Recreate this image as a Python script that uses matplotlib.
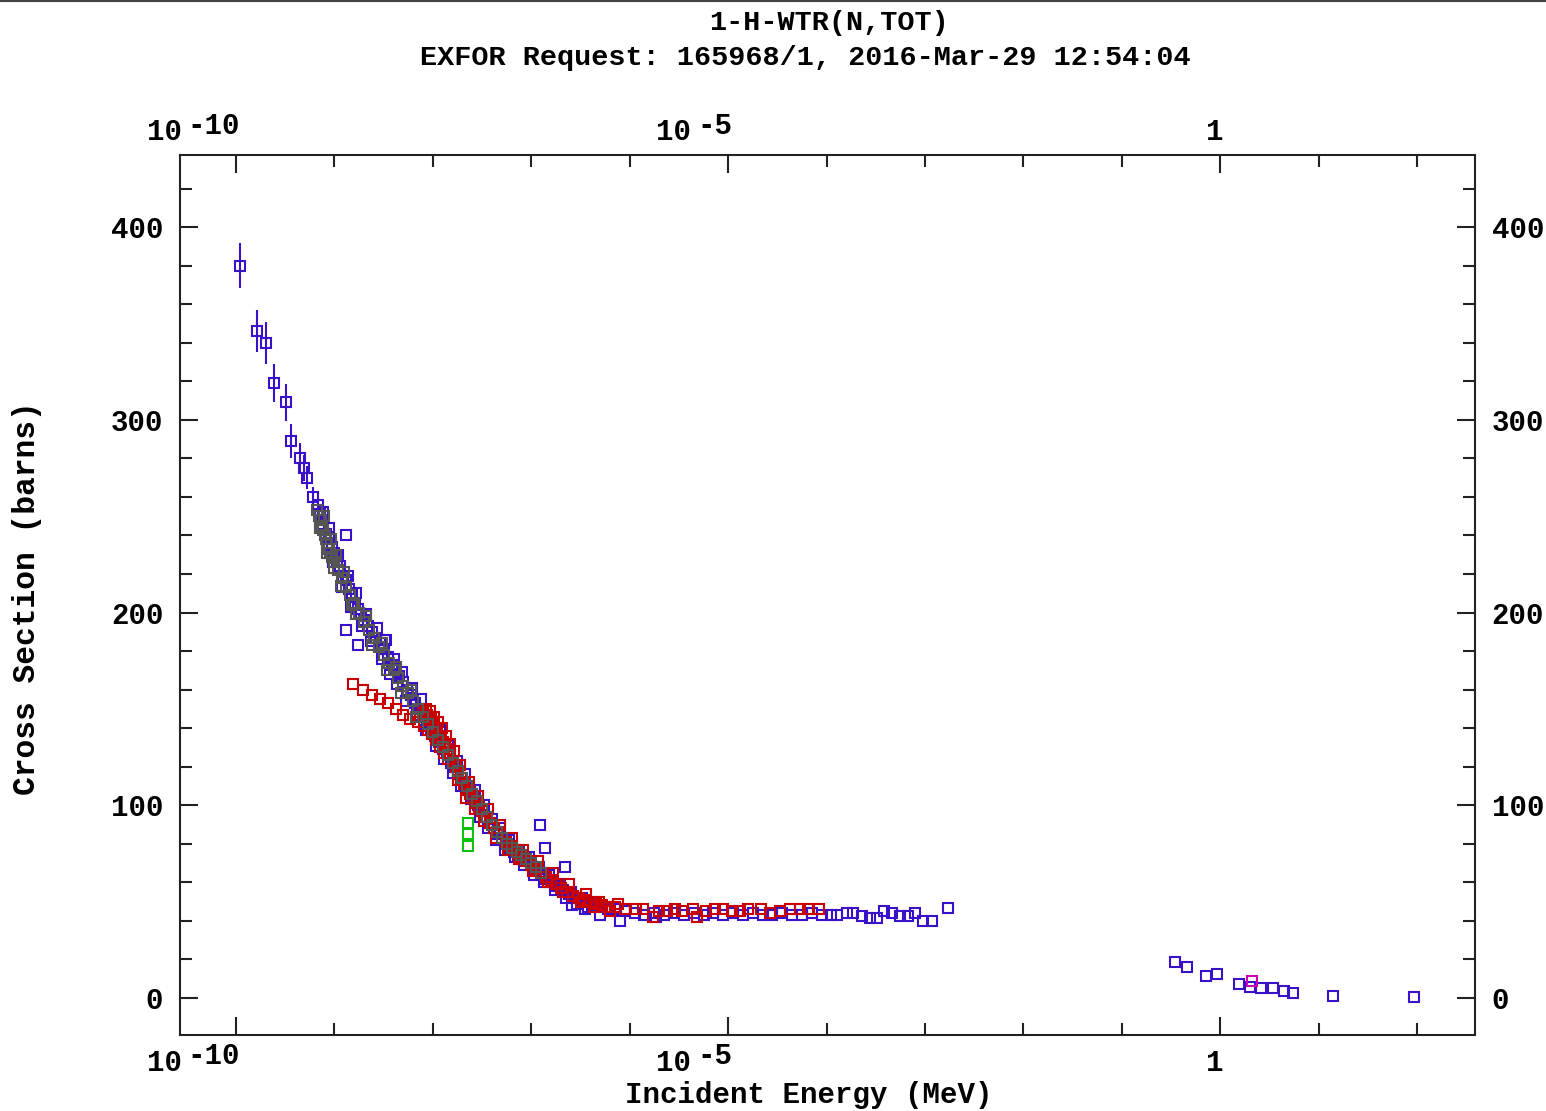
"""
EXFOR plot of the total neutron cross section of hydrogen in water.
Open square markers, log energy axis, two title lines.
"""

import numpy as np
import matplotlib
matplotlib.use("Agg")
import matplotlib.pyplot as plt
from matplotlib.lines import Line2D
from matplotlib.ticker import FixedLocator, MultipleLocator, NullFormatter
from matplotlib.transforms import offset_copy


# Data (energies stored as log10 of MeV, cross sections in barns).
# Low energy points with error bars.
blue_err_log_e = [-9.96, -9.79, -9.70, -9.61, -9.49, -9.44, -9.35, -9.31, -9.28, -9.22, -9.17]
blue_err_xs = [380, 346, 340, 319, 309, 289, 280, 275, 270, 260, 256]
blue_err_dxs = [11.5, 11, 11, 10, 9.5, 9, 8, 7, 6, 5, 4]

# Main blue data set.
blue_log_e = [
    -9.15, -9.12, -9.09, -9.06, -9.03, -9.00, -8.97, -8.94, -8.91, -8.88,
    -8.85, -8.82, -8.79, -8.76, -8.73, -8.70, -8.66, -8.62, -8.58, -8.54,
    -8.50, -8.46, -8.42, -8.38, -8.34, -8.30, -8.26, -8.22, -8.18, -8.14,
    -8.10, -8.06, -8.02, -7.98, -7.94, -7.90, -7.86, -7.82, -7.78, -7.74,
    -7.70, -7.66, -7.62, -7.58, -7.54, -7.50, -7.46, -7.42, -7.38, -7.34,
    -7.30, -7.26, -7.22, -7.18, -7.14, -7.10, -7.05, -7.00, -6.95, -6.90,
    -6.85, -6.80, -6.74, -6.68, -6.62, -6.56, -6.50, -6.44, -6.38, -6.30,
    -6.22, -6.14, -6.05, -5.95, -5.85, -5.75, -5.65, -5.55, -5.45, -5.35,
    -5.25, -5.15, -5.05, -4.95, -4.85, -4.75, -4.65, -4.55, -4.45, -4.35,
    -4.25, -4.15, -4.05, -3.95, -3.89, -3.79, -3.73, -3.64, -3.56, -3.49,
    -3.42, -3.33, -3.25, -3.17, -3.10, -3.02, -2.93, -2.77,
    -8.88, -8.88, -8.76, -8.49, -6.91, -6.86, -6.66, -6.59, -6.45, -6.30,
    -6.10, -5.73,
]
blue_xs = [
    251, 246, 241, 239, 234, 231, 227, 224, 219, 217,
    212, 209, 204, 202, 199, 196, 193, 190, 187, 184,
    181, 177, 173, 170, 167, 164, 160, 157, 153, 150,
    146, 143, 140, 136, 133, 129, 127, 122, 120, 116,
    114, 110, 107, 104, 100, 97, 94, 91, 88, 85,
    82, 80, 78, 76, 74, 72, 71, 69, 67, 64,
    62, 60, 58, 56, 54, 52, 51, 50, 48, 47,
    46, 46, 45, 44, 43, 44, 43, 44, 43, 44,
    43, 44, 43, 44, 43, 44, 43, 43, 44, 43,
    43, 44, 43, 43, 43, 44, 44, 42.6, 41.5, 41.5,
    45, 44, 42.6, 42.6, 44, 40, 40, 46.7,
    240, 191, 183, 186, 90, 78, 68, 48, 46, 43,
    40, 42,
]

# Blue points spread either side of the main band.
blue_spread_log_e = [
    -9.12, -9.06, -9.02, -8.96, -8.92, -8.86, -8.83, -8.78, -8.72, -8.68,
    -8.63, -8.57, -8.52, -8.48, -8.44, -8.40, -8.36, -8.31, -8.27, -8.21,
    -8.16, -8.12, -8.07, -8.03, -7.97, -7.93, -7.89, -7.85, -7.80, -7.76,
    -7.71, -7.67, -7.61, -7.57, -7.52, -7.48, -7.44, -7.40, -7.36, -7.32,
    -7.27, -7.23, -7.17, -7.12, -7.07, -7.02, -6.97, -6.92, -6.87, -6.82,
    -6.76, -6.71, -6.65, -6.60, -6.54, -6.48, -6.42, -6.36,
]
blue_spread_xs = [
    252, 244, 226, 230, 213, 219, 203, 210, 193, 199,
    185, 192, 176, 186, 168, 176, 163, 169, 154, 161,
    147, 155, 139, 146, 131, 139, 124, 131, 117, 123,
    110, 116, 103, 108, 94, 100, 88, 93, 82, 88,
    77, 82, 73, 77, 69, 73, 64, 68, 60, 64,
    56, 59, 52, 55, 49, 52, 47, 50,
]

# Blue points above 0.1 MeV.
blue_fast_log_e = [-0.457, -0.335, -0.142, -0.03, 0.193, 0.305, 0.417, 0.539, 0.65, 0.742, 1.148, 1.97]
blue_fast_xs = [18.7, 16.1, 11.4, 12.5, 7.3, 5.7, 5.2, 5.2, 3.6, 2.6, 1.0, 0.3]

# Red data set.
red_log_e = [
    -8.81, -8.71, -8.62, -8.54, -8.46, -8.37, -8.30, -8.23, -8.15, -8.10,
    -8.08, -8.06, -8.04, -8.02, -8.00, -7.98, -7.96, -7.94, -7.92, -7.90,
    -7.88, -7.86, -7.83, -7.80, -7.77, -7.74, -7.71, -7.68, -7.65, -7.62,
    -7.59, -7.56, -7.53, -7.50, -7.46, -7.42, -7.38, -7.34, -7.30, -7.26,
    -7.22, -7.18, -7.14, -7.10, -7.05, -7.00, -6.95, -6.90, -6.85, -6.80,
    -6.75, -6.70, -6.64, -6.58, -6.52, -6.46, -6.40, -6.34, -6.28, -6.23,
    -6.15, -6.05, -5.94, -5.86, -5.76, -5.70, -5.62, -5.54, -5.47, -5.36,
    -5.32, -5.22, -5.13, -5.05, -4.96, -4.88, -4.80, -4.67, -4.57, -4.47,
    -4.37, -4.27, -4.19, -4.08,
]
red_xs = [
    163, 160, 157, 155, 153, 150, 147, 145, 143, 148,
    146, 147, 144, 145, 142, 140, 138, 136, 135, 133,
    131, 129, 126, 123, 120, 117, 114, 111, 108, 106,
    104, 101, 99, 97, 94, 91, 88, 86, 83, 81,
    79, 77, 75, 73, 71, 69, 67, 65, 63, 61,
    59, 57, 55, 53, 52, 51, 50, 49, 48, 47,
    47, 46, 46, 46, 42, 45, 45, 46, 45, 46,
    42, 45, 46, 46, 45, 45, 46, 46, 44, 45,
    46, 46, 46, 46,
]

# Red points in the dense cluster and along the fall-off.
red_spread_log_e = [
    -8.09, -8.07, -8.05, -8.03, -8.01, -7.99, -7.97, -7.95, -7.93, -7.91,
    -7.89, -7.87, -7.85, -7.83, -7.79, -7.75, -7.72, -7.66, -7.63, -7.57,
    -7.54, -7.48, -7.44, -7.36, -7.32, -7.24, -7.20, -7.12, -7.08, -6.98,
    -6.93, -6.83, -6.78, -6.68, -6.62, -6.50, -6.44, -6.36, -6.31, -6.20,
    -6.12,
]
red_spread_xs = [
    141, 150, 139, 149, 137, 146, 134, 143, 130, 140,
    127, 136, 124, 132, 128, 113, 121, 104, 112, 98,
    105, 92, 98, 83, 90, 77, 83, 72, 77, 66,
    71, 60, 65, 55, 59, 50, 54, 47, 50, 45,
    49,
]

# Grey data set.
grey_log_e = [
    -9.18, -9.16, -9.14, -9.13, -9.12, -9.10, -9.09, -9.08, -9.06, -9.05,
    -9.03, -9.00, -8.96, -8.92, -8.88, -8.84, -8.80, -8.75, -8.70, -8.65,
    -8.60, -8.55, -8.50, -8.45, -8.40, -8.35, -8.30, -8.25, -8.20, -8.15,
    -8.10, -8.05, -8.00, -7.95, -7.90, -7.85, -7.80, -7.75, -7.70, -7.65,
    -7.60, -7.55, -7.50, -7.45, -7.40, -7.35, -7.30, -7.25, -7.20, -7.15,
    -7.10, -7.05, -7.00, -6.95, -6.90,
    -9.15, -9.11, -9.08, -9.04, -9.01, -8.98, -8.93, -8.90, -8.82, -8.78,
    -8.68, -8.62, -8.52, -8.47, -8.37, -8.32, -8.22, -8.17,
]
grey_xs = [
    253, 250, 248, 245, 243, 240, 238, 236, 233, 231,
    229, 226, 222, 218, 213, 209, 205, 200, 195, 191,
    187, 182, 178, 174, 170, 166, 162, 158, 154, 150,
    146, 142, 138, 134, 130, 126, 122, 118, 114, 110,
    106, 102, 98, 94, 90, 86, 83, 80, 78, 76,
    74, 72, 70, 68, 65,
    244, 250, 231, 238, 223, 230, 214, 221, 204, 199,
    198, 183, 184, 170, 172, 158, 160, 146,
]

# Green and magenta data sets.
green_log_e = [-7.64, -7.64, -7.64]
green_xs = [91, 85, 79]
magenta_log_e = [0.325]
magenta_xs = [8.8]

# Axis ticks.
x_major_ticks = [1e-10, 1e-5, 1.0]
x_minor_ticks = [1e-9, 1e-8, 1e-7, 1e-6, 1e-4, 1e-3, 1e-2, 1e-1, 1e1, 1e2]
x_tick_texts = [("10", "-10"), ("10", "-5"), ("1", "")]

# Colours.
BLUE = "#3a10c8"
RED = "#c80000"
GREY = "#555555"
GREEN = "#10c010"
MAGENTA = "#d000b0"

FONT = {"family": "Liberation Mono", "weight": "bold"}


# Draws one open-square series.
def draw_squares(ax, log_e, xs, color, zorder):
    ax.plot(
        10.0 ** np.array(log_e), xs, "s",
        mfc="none", mec=color, ms=7.5, mew=1.5, zorder=zorder,
    )


# Draws the energy tick labels as base + raised exponent.
def draw_energy_labels(ax, fig, baseline_y, raise_px):
    trans = ax.get_xaxis_transform()
    char_w = 17.5
    for energy, (base, power) in zip(x_major_ticks, x_tick_texts):
        if power:
            exp_tr = offset_copy(trans, fig=fig, x=4, y=raise_px, units="dots")
            ax.text(energy, baseline_y, power, transform=exp_tr, ha="right",
                    va="baseline", fontsize=21, **FONT)
            shift = 4 - char_w * len(power) - 6
            base_tr = offset_copy(trans, fig=fig, x=shift, y=0, units="dots")
            ax.text(energy, baseline_y, base, transform=base_tr, ha="right",
                    va="baseline", fontsize=21, **FONT)
        else:
            base_tr = offset_copy(trans, fig=fig, x=3, y=0, units="dots")
            ax.text(energy, baseline_y, base, transform=base_tr, ha="right",
                    va="baseline", fontsize=21, **FONT)


def main():
    W, H = 1546, 1111
    fig = plt.figure(figsize=(W / 100, H / 100), dpi=100)
    left, right, top, bottom = 180, 1475, 155, 1035
    ax = fig.add_axes([left / W, 1 - bottom / H, (right - left) / W, (bottom - top) / H])

    # Data series.
    ax.errorbar(
        10.0 ** np.array(blue_err_log_e), blue_err_xs, yerr=blue_err_dxs,
        fmt="s", mfc="none", mec=BLUE, ecolor=BLUE, ms=7.5, mew=1.5,
        elinewidth=1.5, capsize=0, zorder=3,
    )
    draw_squares(ax, blue_log_e, blue_xs, BLUE, 3)
    draw_squares(ax, blue_spread_log_e, blue_spread_xs, BLUE, 3)
    draw_squares(ax, blue_fast_log_e, blue_fast_xs, BLUE, 3)
    draw_squares(ax, red_log_e, red_xs, RED, 4)
    draw_squares(ax, red_spread_log_e, red_spread_xs, RED, 4)
    draw_squares(ax, grey_log_e, grey_xs, GREY, 5)
    draw_squares(ax, green_log_e, green_xs, GREEN, 6)
    draw_squares(ax, magenta_log_e, magenta_xs, MAGENTA, 6)

    # Scales and limits.
    ax.set_xscale("log")
    ax.set_xlim(10 ** -10.57, 10 ** 2.59)
    ax.set_ylim(-19.2, 437.4)

    ax.xaxis.set_major_locator(FixedLocator(x_major_ticks))
    ax.xaxis.set_minor_locator(FixedLocator(x_minor_ticks))
    ax.xaxis.set_major_formatter(NullFormatter())
    ax.xaxis.set_minor_formatter(NullFormatter())
    ax.yaxis.set_major_locator(MultipleLocator(100))
    ax.yaxis.set_minor_locator(MultipleLocator(20))

    ax.tick_params(which="both", direction="in", top=True, right=True,
                   width=1.5, color="#222222")
    ax.tick_params(which="major", length=13)
    ax.tick_params(which="minor", length=8.5)
    ax.tick_params(axis="y", which="major", labelleft=True, labelright=True,
                   pad=12, labelsize=21)
    for lab in ax.get_yticklabels():
        lab.set_fontfamily("Liberation Mono")
        lab.set_fontweight("bold")
    for spine in ax.spines.values():
        spine.set_linewidth(1.5)
        spine.set_color("#222222")

    # Energy labels on bottom and top.
    draw_energy_labels(ax, fig, (bottom - 1071) / (bottom - top), 7)
    draw_energy_labels(ax, fig, (bottom - 140) / (bottom - top), 6)

    # Axis titles.
    fig.text(809 / W, 1 - 1103 / H, "Incident Energy (MeV)", ha="center",
             va="baseline", fontsize=21, **FONT)
    fig.text(27 / W, 1 - 598 / H, "Cross Section (barns)", ha="center",
             va="center", rotation=90, fontsize=22.5, **FONT)

    # Header.
    fig.text(829 / W, 1 - 30 / H, "1-H-WTR(N,TOT)", ha="center",
             va="baseline", fontsize=20.5, **FONT)
    fig.text(805 / W, 1 - 65 / H, "EXFOR Request: 165968/1, 2016-Mar-29 12:54:04",
             ha="center", va="baseline", fontsize=20.5, **FONT)
    fig.add_artist(Line2D([0, 1], [1 - 1 / H, 1 - 1 / H], color="#444444", lw=1.5))

    fig.savefig("out.png", dpi=100)
    plt.close(fig)


if __name__ == "__main__":
    main()
